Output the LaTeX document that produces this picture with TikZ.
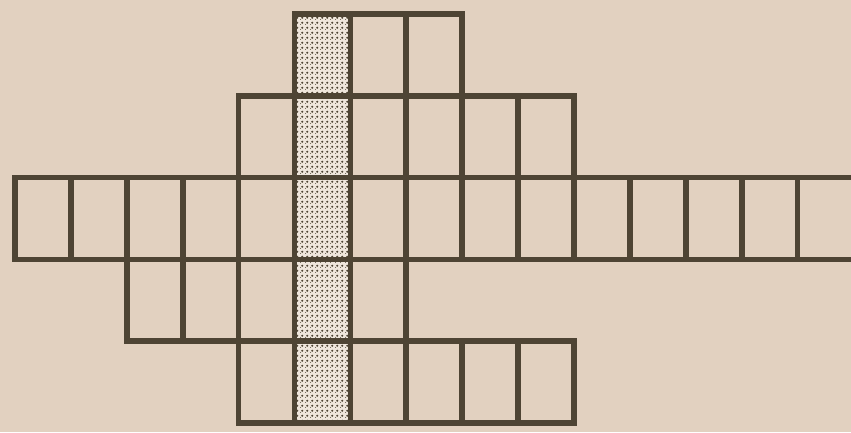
\documentclass[tikz,border=0pt]{standalone}
\usepackage{xcolor}
\usepackage{tikz}
\usetikzlibrary{patterns.meta}

\definecolor{paper}{RGB}{226,209,192}
\definecolor{ink}{RGB}{78,68,52}

\tikzdeclarepattern{
  name=keydots, type=uncolored,
  bounding box={(0pt,0pt) and (4pt,4pt)},
  tile size={(4pt,4pt)},
  code={\fill (0pt,0pt) circle (1pt); \fill (2pt,2pt) circle (1pt);}
}

\begin{document}
\begin{tikzpicture}[
    x=1.677cm, y=-2.454cm,
    cell/.style={rectangle, draw=ink, line width=4.8pt, inner sep=0pt,
                 minimum width=1.677cm, minimum height=2.454cm},
    keycell/.style={cell, preaction={fill=paper!55!white},
                    pattern=keydots, pattern color=ink}
]

% ---- Paper (fixes the margins) ----
\fill[paper] (-0.268,-0.171) rectangle (14.955,5.110);
\clip (-0.268,-0.171) rectangle (14.955,5.110);

% ---- Grid rows: row / first column / last column ----
\foreach \r/\first/\last in {0/5/7, 1/4/9, 2/0/14, 3/2/6, 4/4/9} {
    \foreach \c in {\first,...,\last} {
        \ifnum\c=5 \def\kind{keycell}\else\def\kind{cell}\fi
        \node[\kind] (r\r c\c) at (\c+0.5,\r+0.5) {};
    }
}

\end{tikzpicture}
\end{document}
